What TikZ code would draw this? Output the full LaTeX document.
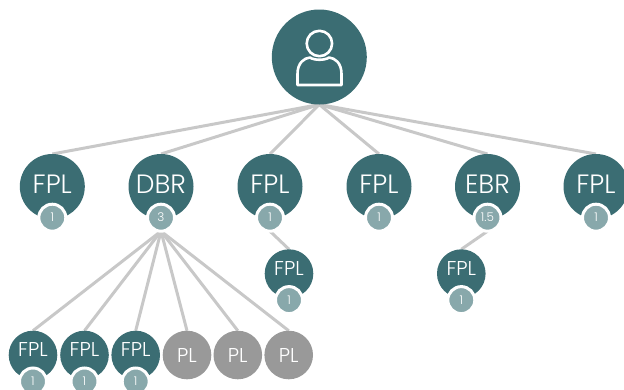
\documentclass[tikz,border=0pt]{standalone}
\usepackage{fontspec}
\setmainfont{Poppins Light}
\usetikzlibrary{backgrounds}
\definecolor{teal1}{HTML}{3B6D73}
\definecolor{grey1}{HTML}{999999}
\definecolor{badge1}{HTML}{88A8AB}
\definecolor{edge1}{HTML}{C8C8C8}
\newcommand{\lbl}[2]{\raisebox{#1}[0pt][0pt]{#2}}
\tikzset{
  x=1pt,y=-1pt,
  every node/.style={circle,inner sep=0pt,outer sep=0pt,text=white},
  rootnode/.style={fill=teal1,minimum size=95pt},
  bignode/.style={fill=teal1,minimum size=65pt,font=\fontsize{26.5}{26.5}\selectfont},
  smallnode/.style={fill=teal1,minimum size=48.6pt,font=\fontsize{20}{20}\selectfont},
  plnode/.style={fill=grey1,minimum size=48.6pt,font=\fontsize{20}{20}\selectfont},
  badgenode/.style={fill=badge1,draw=white,line width=3pt,minimum size=27pt,font=\fontsize{12}{12}\selectfont},
  edgeline/.style={draw=edge1,line width=3pt},
  iconline/.style={draw=white,line width=2.6pt,line join=round}
}
\newcommand{\bigN}[4]{% name x text badge
  \node[bignode] (#1) at (#2,186.5) {\lbl{-7pt}{#3}};
  \node[badgenode] (#1b) at (#2,217.7) {\lbl{-4.2pt}{#4}};
}
\newcommand{\smallN}[4]{% name x y text (badge 1)
  \node[smallnode] (#1) at (#2,#3) {\lbl{-1.8pt}{#4}};
  \node[badgenode] (#1b) at (#2,#3+26.5) {\lbl{-4.2pt}{1}};
}
\begin{document}
\begin{tikzpicture}
\useasboundingbox (0,0) rectangle (624,389);
\node[rootnode] (root) at (319.3,57) {};
\draw[iconline] (319.4,43.5) circle (12.7);
\draw[iconline] (297.5,85) -- (297.5,74) .. controls (297.5,63) and (304,58) .. (310,57.5)
  .. controls (314,60.5) and (325,60.5) .. (329,57.5)
  .. controls (335,58) and (341.5,63) .. (341.5,74) -- (341.5,85) -- cycle;
\bigN{a}{52.3}{FPL}{1}
\bigN{b}{161}{DBR}{3}
\bigN{c}{270}{FPL}{1}
\bigN{d}{379}{FPL}{1}
\bigN{e}{487.5}{EBR}{1.5}
\bigN{f}{596}{FPL}{1}
\smallN{g}{289}{273.6}{FPL}
\smallN{h}{461.3}{273.6}{FPL}
\smallN{i}{33}{355}{FPL}
\smallN{j}{84.5}{355}{FPL}
\smallN{k}{135.7}{355}{FPL}
\node[plnode] (l) at (187,355) {\lbl{-7pt}{PL}};
\node[plnode] (m) at (237.8,355) {\lbl{-7pt}{PL}};
\node[plnode] (n) at (288.7,355) {\lbl{-7pt}{PL}};
\begin{scope}[on background layer]
\foreach \t in {a,b,c,d,e,f} \draw[edgeline] (root.south) -- (\t.north);
\foreach \t in {i,j,k,l,m,n} \draw[edgeline] (bb.south) -- (\t.north);
\draw[edgeline] (cb.south) -- (g.north);
\draw[edgeline] (eb.south) -- (h.north);
\end{scope}
\end{tikzpicture}
\end{document}
